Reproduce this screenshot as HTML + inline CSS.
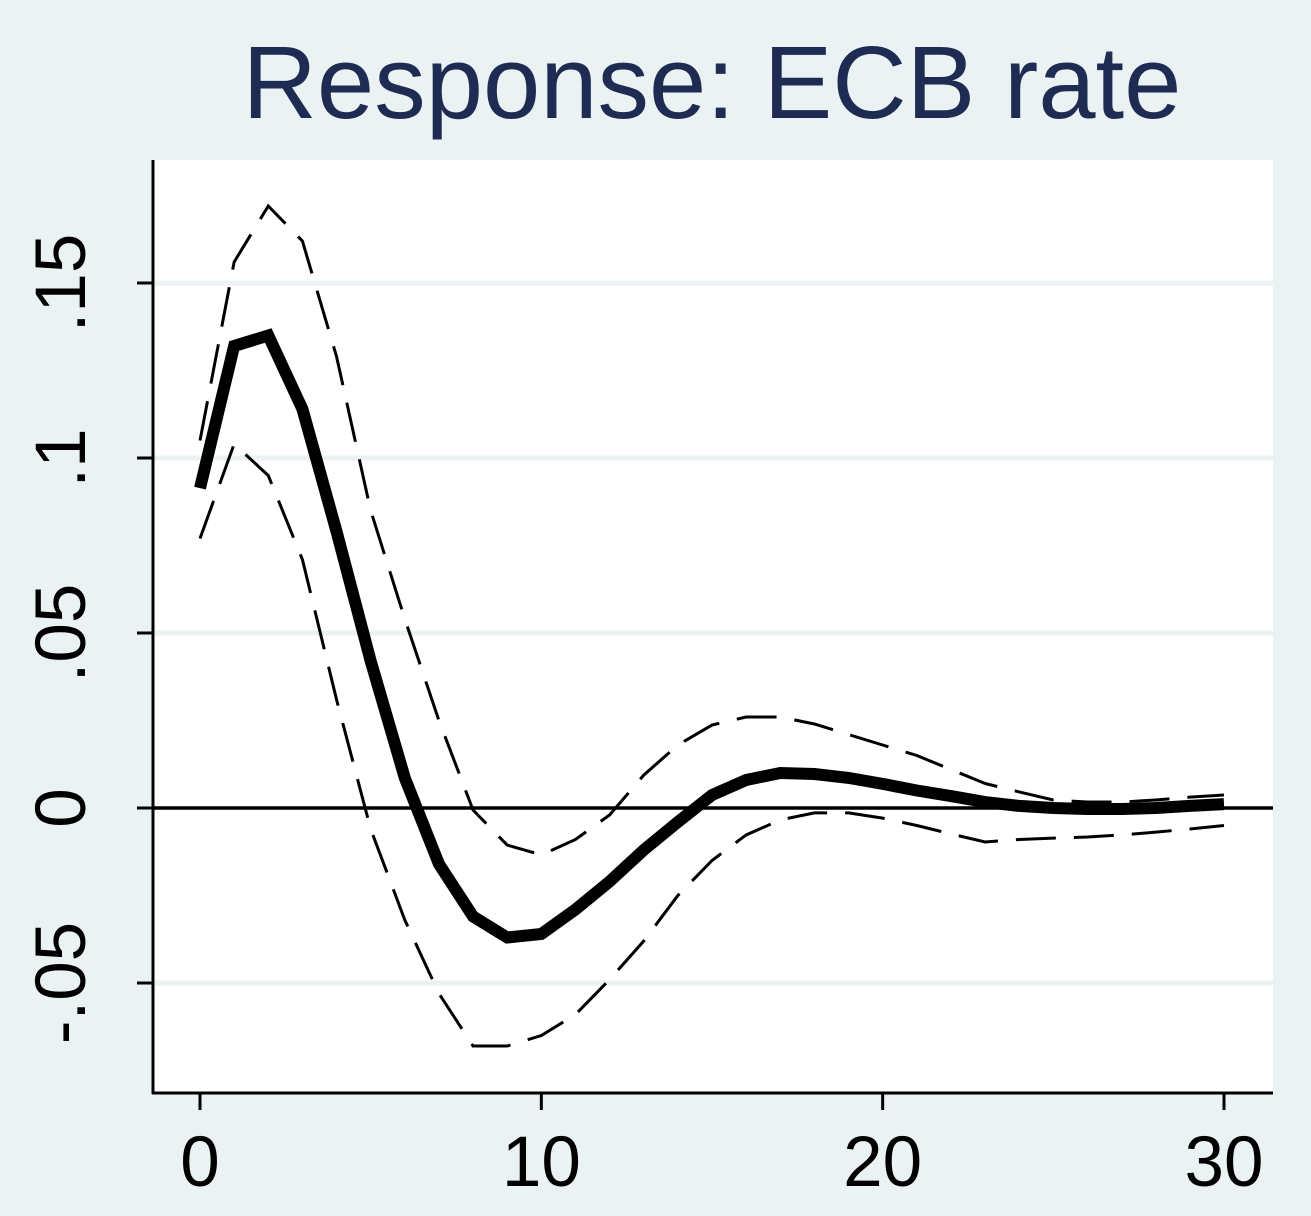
<!DOCTYPE html>
<html><head><meta charset="utf-8">
<style>
html,body{margin:0;padding:0;background:#eaf2f3;}
svg{display:block;font-family:"Liberation Sans",Arial,sans-serif;}
</style></head>
<body>
<svg id="chart" width="1311" height="1216" viewBox="0 0 1311 1216" xmlns="http://www.w3.org/2000/svg">
<rect x="0" y="0" width="1311" height="1216" fill="#eaf2f3"/>
<text x="712" y="118" font-size="103" fill="#1e2b52" text-anchor="middle">Response: ECB rate</text>
<rect x="153" y="160" width="1120" height="933" fill="#ffffff"/>
<g id="grid"></g>
<g id="series"></g>
<g id="axes"></g>
</svg>
<script>
const horizons = Array.from({length:31},(_, i)=>i);
const response = [0.0914,0.132,0.135,0.114,0.079,0.042,0.0086,-0.016,-0.031,-0.037,-0.036,-0.029,-0.021,-0.012,-0.004,0.0037,0.008,0.010,0.0097,0.0086,0.0069,0.005,0.0034,0.0017,0.0006,0,-0.0003,-0.0003,0,0.0006,0.0011];
const upperBand = [0.105,0.156,0.172,0.162,0.129,0.085,0.054,0.025,-0.0006,-0.0106,-0.0134,-0.009,-0.002,0.0094,0.018,0.0237,0.026,0.026,0.024,0.021,0.018,0.015,0.011,0.007,0.0046,0.0023,0.0017,0.0017,0.0023,0.0031,0.0037];
const lowerBand = [0.077,0.104,0.095,0.071,0.031,-0.006,-0.032,-0.053,-0.068,-0.068,-0.065,-0.059,-0.049,-0.038,-0.025,-0.015,-0.0077,-0.0034,-0.0014,-0.0014,-0.0029,-0.005,-0.0074,-0.0097,-0.009,-0.0086,-0.0083,-0.0077,-0.0069,-0.006,-0.005];
const yTicks = [-0.05,0,0.05,0.1,0.15];
const yTickLabels = ["-.05","0",".05",".1",".15"];
const xTicks = [0,10,20,30];
const xTickLabels = ["0","10","20","30"];

const NS="http://www.w3.org/2000/svg";
function xScale(v){return 200 + v*(1224-200)/30;}
function yScale(v){return 808 - v*3500;}
function mk(tag,attrs,parent){const e=document.createElementNS(NS,tag);for(const k in attrs)e.setAttribute(k,attrs[k]);parent.appendChild(e);return e;}

const grid=document.getElementById('grid');
const axes=document.getElementById('axes');
const series=document.getElementById('series');

yTicks.forEach((t,i)=>{
  if(t!==0){
    const g=mk('line',{x1:155,x2:1273,y1:yScale(t),y2:yScale(t),stroke:'#eaf2f3','stroke-width':5},grid);
    
    
  }
  const tk=mk('line',{x1:137,x2:153,y1:yScale(t),y2:yScale(t),stroke:'#000','stroke-width':3},axes);
  
  
  const lb=mk('text',{x:0,y:0,'font-size':71,fill:'#000','text-anchor':'middle',transform:`translate(85,${yScale(t)}) rotate(-90)`},axes);
  lb.textContent=yTickLabels[i];
  
  
});
xTicks.forEach((t,i)=>{
  const tk=mk('line',{x1:xScale(t),x2:xScale(t),y1:1093,y2:1110,stroke:'#000','stroke-width':3},axes);
  
  
  const lb=mk('text',{x:xScale(t),y:1186,'font-size':71,fill:'#000','text-anchor':'middle'},axes);
  lb.textContent=xTickLabels[i];
  
  
});
const ya=mk('line',{x1:153,x2:153,y1:160,y2:1094,stroke:'#000','stroke-width':3},axes);


const xa=mk('line',{x1:152,x2:1273,y1:1093,y2:1093,stroke:'#000','stroke-width':3},axes);



const zl=mk('line',{x1:153,x2:1273,y1:yScale(0),y2:yScale(0),stroke:'#000','stroke-width':3.5},series);



function pts(arr){return arr.map((v,i)=>xScale(horizons[i])+','+yScale(v)).join(' ');}
const up=mk('polyline',{points:pts(upperBand),fill:'none',stroke:'#000','stroke-width':3,'stroke-dasharray':'40,18'},series);


const lo=mk('polyline',{points:pts(lowerBand),fill:'none',stroke:'#000','stroke-width':3,'stroke-dasharray':'40,18'},series);


const rl=mk('polyline',{points:pts(response),fill:'none',stroke:'#000','stroke-width':12,'stroke-linejoin':'miter'},series);


</script>
</body></html>
